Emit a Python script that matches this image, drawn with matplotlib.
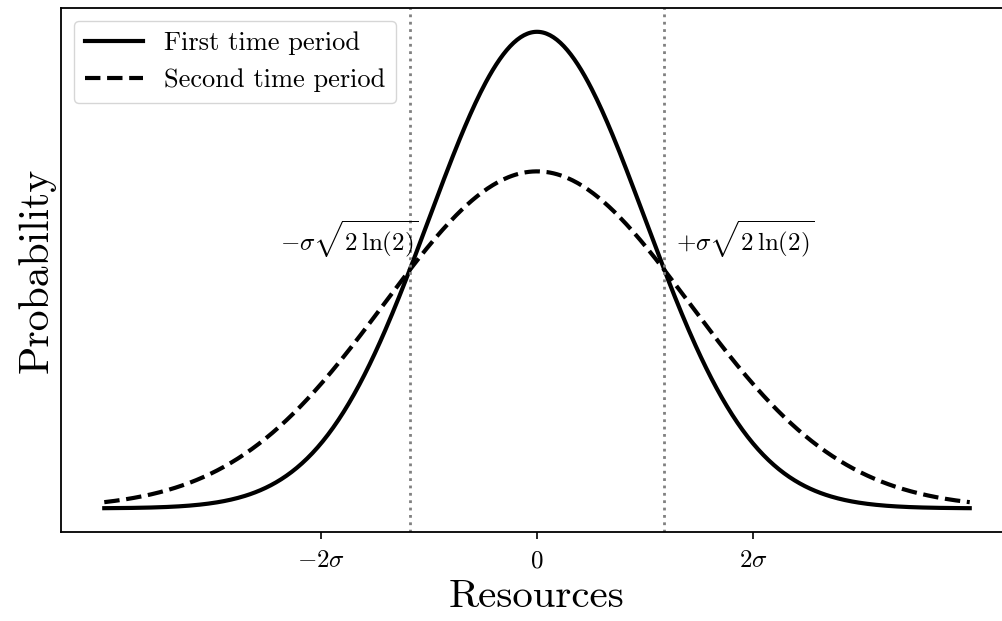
import numpy as np
import matplotlib
matplotlib.use("Agg")
import matplotlib.pyplot as plt

plt.rcParams['font.family'] = 'serif'
plt.rcParams['font.serif'] = ['cmr10']
plt.rcParams['mathtext.fontset'] = 'cm'
plt.rcParams['axes.formatter.use_mathtext'] = True

# two normal densities: sigma and sqrt(2)*sigma
sigma_1 = 1.0
sigma_2 = np.sqrt(2.0)
x_min, x_max = -4.0, 4.0
labels = ["First time period", "Second time period"]
tick_pos = [-2, 0, 2]
tick_labels = [r"$-2\sigma$", r"$0$", r"$2\sigma$"]

x = np.linspace(x_min, x_max, 500)
pdf1 = np.exp(-x**2 / (2 * sigma_1**2)) / (sigma_1 * np.sqrt(2 * np.pi))
pdf2 = np.exp(-x**2 / (2 * sigma_2**2)) / (sigma_2 * np.sqrt(2 * np.pi))
x_cross = sigma_1 * np.sqrt(2 * np.log(2))

fig = plt.figure(figsize=(10.02, 6.21), dpi=100)
ax = fig.add_axes([61/1002, 89/621, 952/1002, 524/621])

ax.plot(x, pdf1, color='black', lw=3, label=labels[0])
ax.plot(x, pdf2, color='black', lw=3, ls='--', label=labels[1])
ax.axvline(-x_cross, color='gray', ls=':', lw=2)
ax.axvline(x_cross, color='gray', ls=':', lw=2)

ax.text(-x_cross + 0.09, 0.225, r"$-\sigma\sqrt{2\,\ln(2)}$", ha='right', va='center', fontsize=18)
ax.text(x_cross + 0.11, 0.225, r"$+\sigma\sqrt{2\,\ln(2)}$", ha='left', va='center', fontsize=18)

ax.set_xticks(tick_pos)
ax.set_xticklabels(tick_labels, fontsize=18)
ax.set_yticks([])
ax.tick_params(axis='x', length=5, width=1.2, pad=8)
for s in ax.spines.values():
    s.set_linewidth(1.3)
ax.spines['right'].set_visible(False)

ax.set_xlabel("Resources", fontsize=29.5, labelpad=5)
ax.set_ylabel("Probability", fontsize=30)
ax.legend(loc='upper left', fontsize=19, handlelength=2.2)

fig.savefig("out.png", dpi=100)
